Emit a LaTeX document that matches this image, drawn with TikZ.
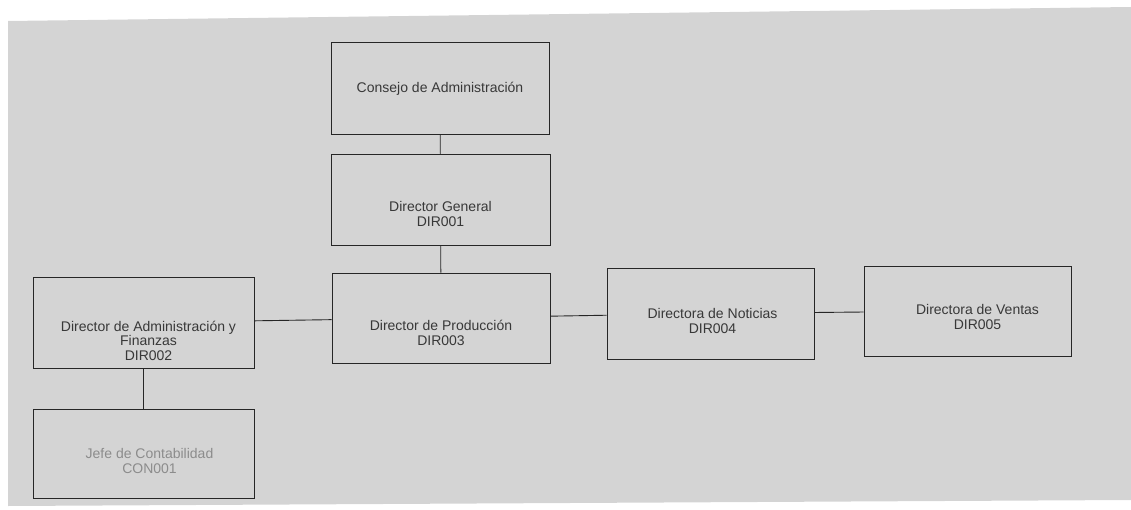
\documentclass[tikz,border=0pt]{standalone}
\usepackage{fontspec}
\setmainfont{Liberation Sans}
\usepackage{tikz}
\usetikzlibrary{shapes,arrows}
\definecolor{scan}{gray}{0.83}
\definecolor{ink}{gray}{0.22}
\tikzstyle{block} = [draw=black!85, line width=0.9pt, rectangle, inner sep=0pt,
    minimum height=91pt, minimum width=219pt]
\tikzstyle{narrow} = [block, minimum width=207pt]
\tikzstyle{txt} = [align=center, text=ink, inner sep=0pt,
    font=\fontsize{14}{14.5}\selectfont]
\tikzstyle{link} = [draw=black!85, line width=0.9pt]

\begin{document}
\begin{tikzpicture}[x=1pt, y=-1pt]
    \useasboundingbox (0,0) rectangle (1131,510);
    % the scanned grey page
    \fill[scan] (8,21) -- (1131,7) -- (1131,500) -- (8,506) -- cycle;

    % We start by placing the blocks
    \node [block, minimum height=92pt, minimum width=218pt] (consejo) at (440,88) {};
    \node [block] (general) at (440.5,199.5) {};
    \node [block, minimum height=90pt, minimum width=218pt] (produccion) at (441,318) {};
    \node [block, minimum width=221pt] (finanzas) at (143.5,322.5) {};
    \node [block, minimum height=89pt, minimum width=221pt] (contabilidad) at (143.5,453.5) {};
    \node [narrow] (noticias) at (710.5,313.5) {};
    \node [narrow, minimum height=90pt] (ventas) at (967.5,311) {};

    % The texts sit a little below the middle of each block
    \node [txt] at ([yshift=-1pt]consejo.center) {Consejo de Administración};
    \node [txt] at ([yshift=-14.5pt]general.center) {Director General\\DIR001};
    \node [txt] at ([yshift=-15pt]produccion.center) {Director de Producción\\DIR003};
    \node [txt] at ([xshift=5pt,yshift=-18pt]finanzas.center)
        {Director de Administración y\\Finanzas\\DIR002};
    \node [txt, text=black!45] at ([xshift=6pt,yshift=-7.5pt]contabilidad.center)
        {Jefe de Contabilidad\\CON001};
    \node [txt] at ([xshift=2pt,yshift=-7.5pt]noticias.center) {Directora de Noticias\\DIR004};
    \node [txt] at ([xshift=10pt,yshift=-6pt]ventas.center) {Directora de Ventas\\DIR005};

    % Once the nodes are placed, connecting them is easy.
    \draw [link] (consejo) -- (general);
    \draw [link] (general) -- (produccion);
    \draw [link] (finanzas) -- (produccion);
    \draw [link] (produccion) -- (noticias);
    \draw [link] (noticias) -- (ventas);
    \draw [link] (finanzas) -- (contabilidad);
\end{tikzpicture}
\end{document}
